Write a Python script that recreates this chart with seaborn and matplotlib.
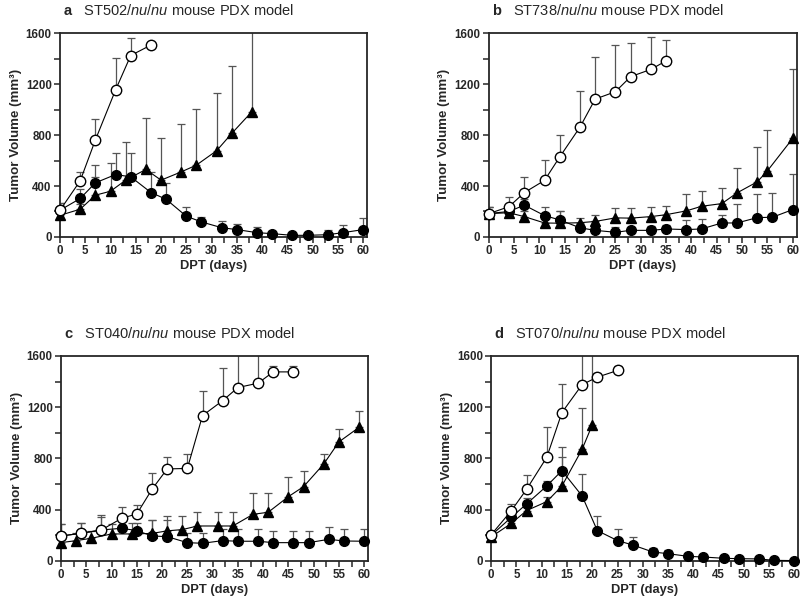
import matplotlib
matplotlib.use("Agg")
import matplotlib.pyplot as plt
import seaborn as sns
import numpy as np
from matplotlib.ticker import MultipleLocator

# Panel a: ST502
a_open_x = [0, 4, 7, 11, 14, 18]
a_open_y = [210, 441, 761, 1154, 1424, 1506]
a_open_sd = [60, 70, 165, 250, 135, 0]
a_fill_x = [0, 4, 7, 11, 14, 18, 21, 25, 28, 32, 35, 39, 42, 46, 49, 53, 56, 60]
a_fill_y = [210, 302, 425, 490, 472, 349, 296, 163, 118, 73, 58, 34, 26, 13, 13, 18, 34, 58]
a_fill_sd = [55, 78, 139, 166, 189, 162, 126, 70, 42, 53, 47, 45, 21, 13, 13, 40, 58, 94]
a_tri_x = [0, 4, 7, 10, 13, 17, 20, 24, 27, 31, 34, 38]
a_tri_y = [170, 218, 328, 359, 446, 530, 446, 511, 564, 677, 813, 984]
a_tri_sd = [80, 40, 139, 218, 302, 406, 333, 373, 438, 451, 530, 800]

# Panel b: ST738
b_open_x = [0, 4, 7, 11, 14, 18, 21, 25, 28, 32, 35]
b_open_y = [183, 238, 348, 444, 628, 862, 1082, 1140, 1258, 1315, 1382]
b_open_sd = [52, 74, 123, 160, 172, 285, 328, 370, 262, 257, 160]
b_fill_x = [0, 4, 7, 11, 14, 18, 21, 25, 28, 32, 35, 39, 42, 46, 49, 53, 56, 60]
b_fill_y = [184, 200, 250, 168, 134, 72, 52, 37, 52, 52, 63, 58, 63, 110, 110, 152, 155, 215]
b_fill_sd = [50, 30, 50, 67, 70, 30, 28, 42, 27, 33, 32, 72, 81, 60, 147, 189, 191, 283]
b_tri_x = [0, 4, 7, 11, 14, 18, 21, 25, 28, 32, 35, 39, 42, 46, 49, 53, 55, 60]
b_tri_y = [184, 190, 160, 110, 108, 112, 122, 150, 148, 160, 175, 205, 241, 262, 346, 433, 519, 774]
b_tri_sd = [50, 25, 40, 40, 97, 39, 50, 75, 77, 76, 72, 131, 121, 126, 192, 275, 320, 543]

# Panel c: ST040
c_open_x = [0, 4, 8, 12, 15, 18, 21, 25, 28, 32, 35, 39, 42, 46]
c_open_y = [195, 216, 242, 333, 367, 559, 718, 722, 1134, 1251, 1353, 1387, 1475, 1475]
c_open_sd = [94, 83, 117, 86, 68, 130, 96, 113, 193, 253, 450, 420, 47, 47]
c_fill_x = [0, 4, 8, 12, 15, 18, 21, 25, 28, 32, 35, 39, 42, 46, 49, 53, 56, 60]
c_fill_y = [195, 216, 242, 255, 237, 195, 190, 143, 138, 159, 154, 154, 143, 143, 143, 169, 156, 154]
c_fill_sd = [90, 80, 100, 83, 57, 125, 130, 73, 78, 88, 93, 96, 89, 89, 89, 99, 94, 96]
c_tri_x = [0, 3, 6, 10, 14, 18, 21, 24, 27, 31, 34, 38, 41, 45, 48, 52, 55, 59]
c_tri_y = [143, 159, 177, 211, 211, 215, 235, 245, 273, 273, 273, 364, 380, 502, 580, 757, 929, 1043]
c_tri_sd = [57, 61, 53, 81, 89, 108, 114, 109, 107, 107, 107, 169, 148, 156, 125, 76, 101, 130]

# Panel d: ST070
d_open_x = [0, 4, 7, 11, 14, 18, 21, 25]
d_open_y = [205, 393, 559, 809, 1158, 1376, 1434, 1486]
d_open_sd = [25, 52, 110, 239, 221, 400, 30, 36]
d_fill_x = [0, 4, 7, 11, 14, 18, 21, 25, 28, 32, 35, 39, 42, 46, 49, 53, 56, 60]
d_fill_y = [200, 341, 445, 585, 705, 507, 237, 159, 125, 70, 57, 36, 31, 21, 18, 16, 5, 3]
d_fill_sd = [30, 39, 44, 42, 182, 169, 117, 93, 65, 29, 26, 14, 9, 7, 7, 6, 5, 2]
d_tri_x = [0, 4, 7, 11, 14, 18, 20]
d_tri_y = [188, 294, 393, 463, 585, 872, 1061]
d_tri_sd = [32, 36, 27, 37, 229, 320, 739]

panels = [
    ("a", "ST502", [0.075, 0.6037, 0.384, 0.341],
     (a_open_x, a_open_y, a_open_sd), (a_fill_x, a_fill_y, a_fill_sd), (a_tri_x, a_tri_y, a_tri_sd)),
    ("b", "ST738", [0.611, 0.6037, 0.385, 0.341],
     (b_open_x, b_open_y, b_open_sd), (b_fill_x, b_fill_y, b_fill_sd), (b_tri_x, b_tri_y, b_tri_sd)),
    ("c", "ST040", [0.0763, 0.0619, 0.384, 0.343],
     (c_open_x, c_open_y, c_open_sd), (c_fill_x, c_fill_y, c_fill_sd), (c_tri_x, c_tri_y, c_tri_sd)),
    ("d", "ST070", [0.614, 0.0619, 0.384, 0.343],
     (d_open_x, d_open_y, d_open_sd), (d_fill_x, d_fill_y, d_fill_sd), (d_tri_x, d_tri_y, d_tri_sd)),
]

sns.set_style("ticks")
plt.rcParams["font.family"] = ["Liberation Sans", "DejaVu Sans"]
plt.rcParams["mathtext.fontset"] = "custom"
plt.rcParams["mathtext.rm"] = "Liberation Sans"
plt.rcParams["mathtext.it"] = "Liberation Sans:italic"
plt.rcParams["mathtext.bf"] = "Liberation Sans:bold"

fig = plt.figure(figsize=(8, 5.98), dpi=100)


def draw_series(ax, data, marker, face, size):
    x, y, sd = data
    lower = np.zeros(len(sd))
    ax.errorbar(x, y, yerr=[lower, sd], fmt="none", ecolor="#555555",
                elinewidth=0.9, capsize=3, capthick=0.9, zorder=1)
    sns.lineplot(x=x, y=y, ax=ax, color="black", linewidth=0.8,
                 marker=marker, markersize=size, markerfacecolor=face,
                 markeredgecolor="black", markeredgewidth=1.0,
                 clip_on=False, zorder=3)


for letter, model, pos, open_d, fill_d, tri_d in panels:
    ax = fig.add_axes(pos)
    draw_series(ax, tri_d, "^", "black", 6.5)
    draw_series(ax, fill_d, "o", "black", 7)
    draw_series(ax, open_d, "o", "white", 7.5)

    ax.set_xlim(0, 60.8)
    ax.set_ylim(0, 1600)
    ax.xaxis.set_major_locator(MultipleLocator(5))
    ax.xaxis.set_minor_locator(MultipleLocator(2.5))
    ax.yaxis.set_major_locator(MultipleLocator(400))
    ax.yaxis.set_minor_locator(MultipleLocator(200))
    ax.tick_params(which="both", direction="out", length=4, width=1.1,
                   labelsize=8.3, pad=2)
    for lab in ax.get_xticklabels() + ax.get_yticklabels():
        lab.set_fontweight("bold")
    for sp in ax.spines.values():
        sp.set_visible(True)
        sp.set_linewidth(1.3)

    ax.set_xlabel("DPT (days)", fontsize=9.3, fontweight="bold", labelpad=2)
    ax.set_ylabel("Tumor Volume (mm³)", fontsize=9.6, fontweight="bold", labelpad=3)
    ax.set_title(r"$\bf{" + letter + r"}$   " + model + r"/$\it{nu/nu}$ mouse PDX model",
                 fontsize=10.5, loc="left", pad=13, x=0.01)

fig.savefig("out.png", dpi=100)
